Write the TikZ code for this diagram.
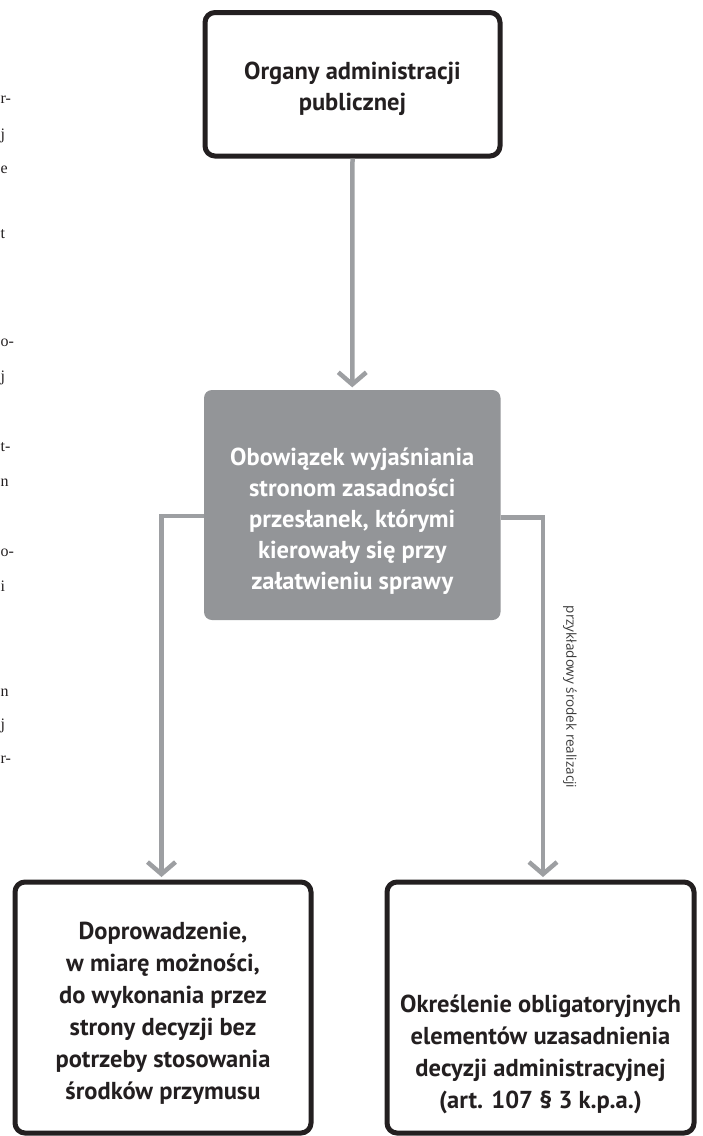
\documentclass[tikz,border=0pt]{standalone}
\usepackage{fontspec}
\setmainfont{PT Sans}
\newfontfamily\notefont{Open Sans}
\newfontfamily\pagefont{Liberation Serif}
\usetikzlibrary{arrows.meta}

\definecolor{ink}{HTML}{231F20}
\definecolor{boxgray}{HTML}{939598}
\definecolor{linegray}{HTML}{9D9FA2}
\definecolor{notegray}{HTML}{3A3A3A}

\tikzset{
  outlinebox/.style={draw=ink, line width=5pt, rounded corners=10pt, fill=white,
    inner sep=0pt},
  fillbox/.style={fill=boxgray, draw=none, rounded corners=8pt, inner sep=0pt},
  boxtext/.style={align=center, text=ink, inner sep=0pt,
    font=\bfseries\fontsize{24.5}{31}\selectfont},
  lowtext/.style={boxtext, font=\bfseries\fontsize{24.5}{32}\selectfont},
  filltext/.style={boxtext, text=white},
  conn/.style={draw=linegray, line width=4.5pt,
    -{Straight Barb[length=12pt, width=28pt]}, shorten >=2.5pt},
  notetext/.style={rotate=-90, text=notegray, inner sep=0pt,
    font=\notefont\fontsize{13.5}{15}\selectfont},
  margintext/.style={anchor=base west, inner sep=0pt, text=ink,
    font=\pagefont\fontsize{16}{19}\selectfont}
}

\begin{document}
\begin{tikzpicture}[x=1pt, y=-1pt]
  \useasboundingbox (0,0) rectangle (703,1136);

  % line ends of the neighbouring text column
  \node[margintext] (m1)  at (0.5,103) {r-};
  \node[margintext] (m2)  at (0.5,139) {j};
  \node[margintext] (m3)  at (0.5,173) {e};
  \node[margintext] (m4)  at (0.5,238) {t};
  \node[margintext] (m5)  at (0.5,346) {o-};
  \node[margintext] (m6)  at (0.5,381) {j};
  \node[margintext] (m7)  at (0.5,451) {t-};
  \node[margintext] (m8)  at (0.5,486) {n};
  \node[margintext] (m9)  at (0.5,556) {o-};
  \node[margintext] (m10) at (0.5,591) {i};
  \node[margintext] (m11) at (0.5,696) {n};
  \node[margintext] (m12) at (0.5,729) {j};
  \node[margintext] (m13) at (0.5,763) {r-};

  % boxes
  \node[outlinebox, minimum width=295pt, minimum height=143.5pt] (top) at (352.5,84.25) {};
  \node[boxtext] (toptext) at (352.5,89) {Organy administracji\\publicznej};

  \node[fillbox, minimum width=296.5pt, minimum height=230pt] (mid) at (352.25,505) {};
  \node[filltext] (midtext) at (352.25,521) {Obowiązek wyjaśniania\\stronom zasadności\\przesłanek, którymi\\kierowały się przy\\załatwieniu sprawy};

  \node[outlinebox, minimum width=296pt, minimum height=251pt] (left) at (163,1007.5) {};
  \node[lowtext] (lefttext) at (163,1013) {Doprowadzenie,\\w miarę możności,\\do wykonania przez\\strony decyzji bez\\potrzeby stosowania\\środków przymusu};

  \node[outlinebox, minimum width=307pt, minimum height=251pt] (right) at (540.5,1007.5) {};
  \node[lowtext] (righttext) at (540.5,1054) {Określenie obligatoryjnych\\elementów uzasadnienia\\decyzji administracyjnej\\(art. 107 § 3 k.p.a.)};

  % branch points of the connectors
  \coordinate (lturn) at (161.5,516);
  \coordinate (rturn) at (543,517.5);

  % connectors
  \draw[conn] (top.south) -- (mid.north);
  \draw[conn] (mid.west |- lturn) -- (lturn) -- (lturn |- left.north);
  \draw[conn] (mid.east |- rturn) -- (rturn) -- (rturn |- right.north);

  \node[notetext] (note) at (570,697) {przykładowy środek realizacji};
\end{tikzpicture}
\end{document}
